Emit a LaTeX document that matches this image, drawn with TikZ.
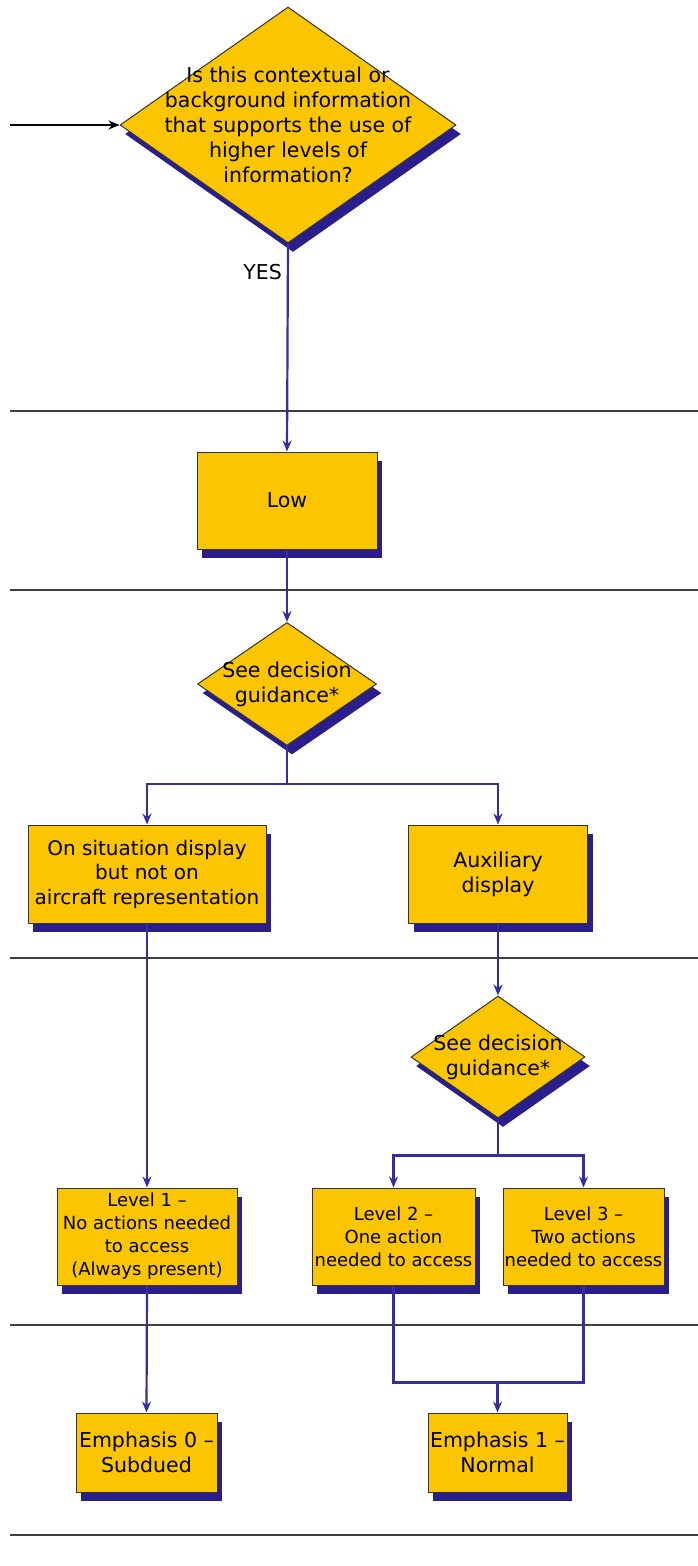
\documentclass[tikz,border=0pt]{standalone}
\usepackage{fontspec}
\setmainfont{DejaVu Sans}
\usetikzlibrary{positioning,arrows.meta,shapes.geometric,shadows,calc}

\definecolor{boxgold}{RGB}{251,197,0}
\definecolor{shadeblue}{RGB}{42,30,140}
\definecolor{flowblue}{RGB}{52,46,160}

\tikzset{
  dropblue/.style={drop shadow={shadow xshift=5pt, shadow yshift=-9pt, fill=shadeblue, opacity=1}},
  box/.style={draw=black!80, fill=boxgold, line width=1pt, dropblue,
    align=center, inner sep=0pt, font=\fontsize{20.5}{25}\selectfont},
  smallbox/.style={box, font=\fontsize{18}{23}\selectfont},
  choice/.style={diamond, draw=black!80, fill=boxgold, line width=1pt, dropblue, inner sep=0pt},
  qtext/.style={align=center, inner sep=0pt, font=\fontsize{20.5}{25}\selectfont},
  flow/.style={draw=flowblue, line width=2.2pt},
  arrowto/.style={flow, -{Stealth[length=11pt,width=9pt]}},
  divider/.style={draw=black!75, line width=1.3pt}
}

\begin{document}
\begin{tikzpicture}[x=1pt, y=-1pt]
\useasboundingbox (0,0) rectangle (698,1566);

% lane dividers
\foreach \yy in {411,590,958,1325,1535}
  \draw[divider] (10,\yy) -- (698,\yy);

% question
\node[choice, minimum width=336pt, minimum height=236pt] (q1) at (288,125) {};
\node[qtext] (q1txt) at (q1.center) {Is this contextual or\\background information\\that supports the use of\\higher levels of\\information?};
\coordinate (start) at (10,125);
\draw[line width=1.3pt, -{Stealth[length=11pt,width=9pt]}] (start) -- (q1.west);
\node[qtext, anchor=east] (yes) at ($(q1.south)+(-6,29)$) {YES};

% low
\node[box, minimum width=180pt, minimum height=97pt] (low) at (287,500.5) {Low};
\draw[arrowto] (q1.south) -- (low.north);

% first guidance
\node[choice, minimum width=179pt, minimum height=123pt] (q2) at (287,684) {};
\node[qtext] (q2txt) at (q2.center) {See decision\\guidance*};
\draw[arrowto] (low.south) -- (q2.north);

\node[box, font=\fontsize{20}{24.5}\selectfont, minimum width=238pt, minimum height=98pt] (sit) at (147,874) {On situation display\\but not on\\aircraft representation};
\node[box, minimum width=179pt, minimum height=98pt] (aux) at (498,874) {Auxiliary\\display};
\draw[flow] (q2.south) -- ++(0,38) coordinate (fork1);
\draw[arrowto] (fork1) -| (sit.north);
\draw[arrowto] (fork1) -| (aux.north);

% second guidance
\node[choice, minimum width=174pt, minimum height=122pt] (q3) at (498,1057) {};
\node[qtext] (q3txt) at (q3.center) {See decision\\guidance*};
\draw[arrowto] (aux.south) -- (q3.north);

\node[smallbox, minimum width=180pt, minimum height=97pt] (lv1) at (147,1236.5) {Level 1 –\\No actions needed\\to access\\(Always present)};
\node[smallbox, minimum width=163pt, minimum height=97pt] (lv2) at (393.5,1236.5) {Level 2 –\\One action\\needed to access};
\node[smallbox, minimum width=161pt, minimum height=97pt] (lv3) at (583.5,1236.5) {Level 3 –\\Two actions\\needed to access};
\draw[arrowto] (sit.south) -- (lv1.north);
\draw[flow] (q3.south) -- ++(0,37) coordinate (fork2);
\draw[arrowto] (fork2) -| (lv2.north);
\draw[arrowto] (fork2) -| (lv3.north);

% emphasis
\node[box, minimum width=141pt, minimum height=79pt] (emph0) at (146.5,1452.5) {Emphasis 0 –\\Subdued};
\node[box, minimum width=139pt, minimum height=79pt] (emph1) at (497.5,1452.5) {Emphasis 1 –\\Normal};
\draw[arrowto] (lv1.south) -- (emph0.north);
\coordinate (join) at ($(emph1.north)+(0,-30)$);
\draw[flow] (lv2.south) |- (join) -| (lv3.south);
\draw[arrowto] (join) -- (emph1.north);
\end{tikzpicture}
\end{document}
